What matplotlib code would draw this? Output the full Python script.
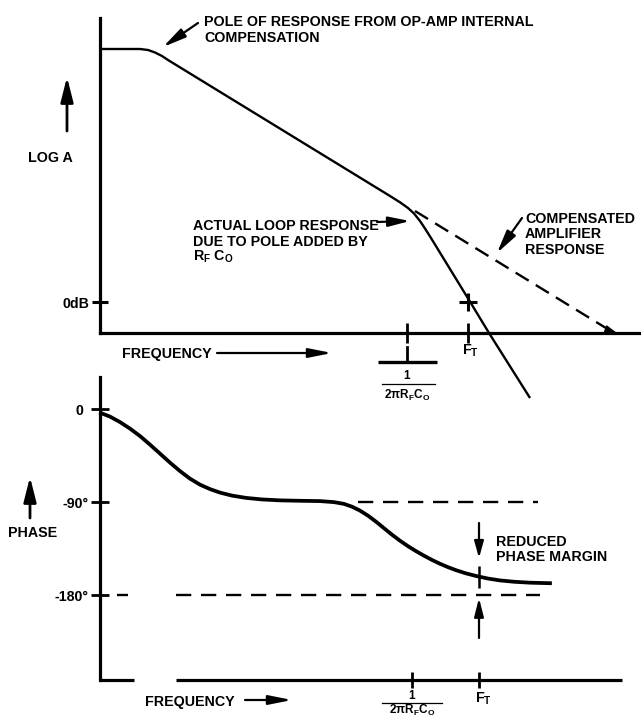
import matplotlib.pyplot as plt

plt.rcParams['font.family'] = ['Liberation Sans', 'DejaVu Sans']
plt.rcParams['font.weight'] = 'bold'
plt.rcParams['mathtext.fontset'] = 'custom'
plt.rcParams['mathtext.rm'] = 'Liberation Sans:bold'
plt.rcParams['mathtext.it'] = 'Liberation Sans:bold'
plt.rcParams['mathtext.bf'] = 'Liberation Sans:bold'
plt.rcParams['lines.scale_dashes'] = False

# gain plot: frequency position, gain (0 = 0dB)
loop_f = [0, 40, 48, 55, 62, 68, 290, 300, 308, 314, 320, 325, 331, 369, 389, 430]
loop_g = [253, 253, 252, 249.5, 246, 242, 106, 99.7, 94, 88.5, 81, 73.5, 64, 2, -31, -96]
comp_f = [315, 510]
comp_g = [91, -28.5]
gain_top = 284
gain_bottom = -31
freq_end_top = 541
f_pole = 307
f_t = 368

# phase plot: frequency position, phase in degrees
phase_f = [1, 10, 20, 30, 40, 50, 60, 70, 80, 90, 100, 110, 120, 132, 146, 162, 180,
           200, 220, 234, 244, 252, 260, 268, 276, 284, 292, 300, 308, 316, 324, 332,
           340, 348, 356, 366, 376, 388, 400, 414, 430, 450]
phase_deg = [-3.9, -7.3, -12.6, -18.9, -26.1, -34.4, -43.1, -51.8, -60.0, -67.3, -73.1,
             -77.4, -80.8, -83.7, -85.9, -87.4, -88.3, -88.7, -89.0, -90.0, -91.7, -94.4,
             -98.2, -103.1, -108.9, -115.2, -121.5, -127.3, -132.6, -137.4, -141.8,
             -145.9, -149.6, -152.9, -155.8, -158.9, -161.4, -163.9, -165.7, -167.0,
             -167.9, -168.4]
phase_ticks = [0, -90, -180]
phase_labels = ['0 ', '-90°', '-180°']
phase_top = 31
phase_bottom = -262
freq_end_bottom = 522
f_pole_b = 312
f_t_b = 379
phase_at_ft = -162.0

W, H = 641, 719
fig = plt.figure(figsize=(W / 100, H / 100), dpi=100)
fig.patch.set_facecolor('white')

def px_axes(left, top, right, bottom):
    return fig.add_axes([left / W, 1 - bottom / H, (right - left) / W, (bottom - top) / H])

def arrow(ax, tail, tip, hl=14, hw=3, lw=1.6):
    ax.annotate('', xy=tip, xytext=tail,
                arrowprops=dict(arrowstyle='-|>,head_length=%s,head_width=%s' % (hl, hw),
                                lw=lw, color='black', shrinkA=0, shrinkB=0,
                                mutation_scale=1))

# ---- gain panel
ax1 = px_axes(100, 18, 641, 333)
ax1.set_facecolor('none')
ax1.set_xlim(0, freq_end_top)
ax1.set_ylim(gain_bottom, gain_top)
for s in ['top', 'right']:
    ax1.spines[s].set_visible(False)
for s in ['left', 'bottom']:
    ax1.spines[s].set_linewidth(2.3)
ax1.plot(loop_f, loop_g, color='black', lw=1.7, clip_on=False, solid_capstyle='butt')
ax1.plot(comp_f, comp_g, color='black', lw=1.7, ls=(0, (11, 6)), clip_on=False)
ax1.annotate('', xy=(comp_f[1] + 7, comp_g[1] - 2.5), xytext=(comp_f[1], comp_g[1]),
             arrowprops=dict(arrowstyle='-|>,head_length=7,head_width=2.2', lw=1,
                             color='black', shrinkA=0, shrinkB=0, mutation_scale=1))
ax1.plot([f_t], [0], marker='+', ms=13, mew=2.2, color='black', clip_on=False)
ax1.set_yticks([0])
ax1.set_yticklabels(['0dB'], fontsize=10.2, fontweight='bold')
ax1.tick_params(axis='y', direction='inout', length=12, width=2.2, pad=2)
ax1.set_xticks([f_pole, f_t])
ax1.set_xticklabels(['', ''])
ax1.tick_params(axis='x', direction='inout', length=14, width=2)
# extra bar under the pole tick
ax1.plot([f_pole, f_pole], [-45, -60], color='black', lw=2, clip_on=False)
ax1.plot([f_pole - 29, f_pole + 30], [-60, -60], color='black', lw=2.4, clip_on=False,
         solid_capstyle='butt')

# ---- phase panel
ax2 = px_axes(100, 377, 622, 680)
ax2.set_facecolor('none')
ax2.set_xlim(0, freq_end_bottom)
ax2.set_ylim(phase_bottom, phase_top)
for s in ['top', 'right', 'bottom']:
    ax2.spines[s].set_visible(False)
ax2.spines['left'].set_linewidth(2.3)
ax2.plot([0, 34], [phase_bottom, phase_bottom], color='black', lw=2.3, clip_on=False,
         solid_capstyle='butt')
ax2.plot([76, freq_end_bottom], [phase_bottom, phase_bottom], color='black', lw=2.3,
         clip_on=False, solid_capstyle='butt')
ax2.plot(phase_f, phase_deg, color='black', lw=2.7, clip_on=False,
         solid_joinstyle='round')
ax2.plot([258, 438], [-90, -90], color='black', lw=1.7, ls=(0, (11, 7)))
ax2.plot([17, 28], [-180, -180], color='black', lw=1.7, solid_capstyle='butt')
ax2.plot([76, 440], [-180, -180], color='black', lw=1.7, ls=(0, (11, 7)))
ax2.plot([f_t_b], [phase_at_ft], marker='|', ms=16, mew=1.8, color='black')
ax2.set_yticks(phase_ticks)
ax2.set_yticklabels(phase_labels, fontsize=10.2, fontweight='bold')
ax2.tick_params(axis='y', direction='inout', length=13, width=2, pad=2)
ax2.set_xticks([f_pole_b, f_t_b])
ax2.set_xticklabels(['', ''])
ax2.tick_params(axis='x', direction='inout', length=12, width=2)

# ---- text and arrows, laid out in picture pixels
lay = fig.add_axes([0, 0, 1, 1])
lay.set_xlim(0, W)
lay.set_ylim(H, 0)
lay.axis('off')

fs = 10.3
def lines(x, y0, dy, items, **kw):
    for i, t in enumerate(items):
        lay.text(x, y0 + i * dy, t, fontsize=fs, fontweight='bold', va='baseline', **kw)

lines(204, 26, 16, ['POLE OF RESPONSE FROM OP-AMP INTERNAL', 'COMPENSATION'])
arrow(lay, (198, 23), (163, 47))
lines(28, 162, 0, ['LOG A'])
arrow(lay, (67, 131), (67, 77), hl=15, hw=3.8, lw=2)
lines(193, 230, 15.5, ['ACTUAL LOOP RESPONSE', 'DUE TO POLE ADDED BY', r'R$_F$ C$_O$'])
arrow(lay, (377, 222), (410, 221), hl=13, hw=3)
lines(525, 223, 15.5, ['COMPENSATED', 'AMPLIFIER', 'RESPONSE'])
arrow(lay, (522, 218), (497, 253), hl=14, hw=3.2)
lines(122, 358, 0, ['FREQUENCY'])
arrow(lay, (217, 353), (332, 353), hl=14, hw=2.8)
lay.text(462, 355, r'F$_T$', fontsize=fs, va='baseline')
lay.text(407, 379, '1', fontsize=8.5, ha='center', va='baseline')
lay.plot([382, 435], [384, 384], color='black', lw=0.9)
lay.text(407, 399, r'2$\pi$R$_F$C$_O$', fontsize=8.5, ha='center', va='baseline')

lines(8, 537, 0, ['PHASE'])
arrow(lay, (30, 518), (30, 477), hl=15, hw=3.8, lw=2)
lines(145, 706, 0, ['FREQUENCY'])
arrow(lay, (245, 700), (292, 700), hl=14, hw=2.8)
lines(496, 546, 15, ['REDUCED', 'PHASE MARGIN'])
arrow(lay, (479, 523), (479, 558), hl=10, hw=2.8)
arrow(lay, (479, 638), (479, 598), hl=11, hw=2.8)
lay.text(412, 699, '1', fontsize=8.5, ha='center', va='baseline')
lay.plot([382, 442], [703, 703], color='black', lw=0.9)
lay.text(412, 714, r'2$\pi$R$_F$C$_O$', fontsize=8.5, ha='center', va='baseline')
lay.text(475, 703, r'F$_T$', fontsize=fs, va='baseline')

fig.savefig('out.png', dpi=100, facecolor='white')
